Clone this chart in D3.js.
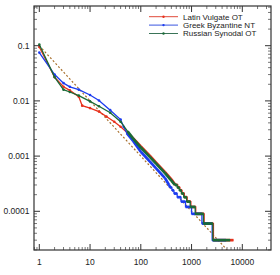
<!DOCTYPE html>
<meta charset="utf-8">
<style>
body { margin: 0; background: #fff; font-family: 'Liberation Sans', Arial, sans-serif; }
text { fill: #222; font-size: 8.5px; }
.legend-text { font-size: 8px; }
.frame { fill: none; stroke: #333; stroke-width: 1.2px; }
.major { stroke: #333; stroke-width: 1px; }
.minor { stroke: #777; stroke-width: 1px; }
.zipf { fill: none; stroke: #a8702e; stroke-width: 1.2px; stroke-dasharray: 2,2; }
.head { fill: none; stroke-width: 1.3px; }
.tail { stroke-width: 2.7px; stroke-linecap: butt; }
</style>
<body>
<svg width="280" height="275"></svg>
<script src="https://d3js.org/d3.v7.min.js"></script>
<script>
// rank / relative frequency
var latinRanks = [1, 2, 3, 4, 6, 7, 10, 15, 21, 30, 40, 53, 70, 100, 150, 200, 300, 400,
  480, 535, 536, 590, 591, 650, 651, 720, 721, 820, 821, 970, 971, 1210, 1211, 1770, 1771, 2700, 2701, 6700];
var latinFreqs = [0.095, 0.027, 0.018, 0.0155, 0.0119, 0.0082, 0.0074, 0.0064, 0.0052, 0.0042, 0.0034, 0.0027, 0.0021, 0.0015, 0.00102, 0.00076, 0.00051, 0.00038,
  3.0e-4, 3.0e-4, 2.7e-4, 2.7e-4, 2.4e-4, 2.4e-4, 2.1e-4, 2.1e-4, 1.8e-4, 1.8e-4, 1.5e-4, 1.5e-4, 1.2e-4, 1.2e-4, 9e-5, 9e-5, 6e-5, 6e-5, 3e-5, 3e-5];

var greekRanks = [1, 2, 3, 4, 6, 10, 15, 25, 40, 46, 53, 70, 100, 150, 200, 300, 360,
  380, 410, 411, 450, 451, 520, 521, 620, 621, 760, 761, 1000, 1001, 1600, 1601, 2550, 2551, 4800];
var greekFreqs = [0.075, 0.030, 0.021, 0.018, 0.016, 0.0128, 0.0102, 0.0068, 0.0046, 0.0034, 0.0026, 0.0019, 0.0012, 0.0008, 0.0006, 0.0004, 0.0003,
  2.7e-4, 2.7e-4, 2.4e-4, 2.4e-4, 2.1e-4, 2.1e-4, 1.8e-4, 1.8e-4, 1.5e-4, 1.5e-4, 1.2e-4, 1.2e-4, 9e-5, 9e-5, 6e-5, 6e-5, 3e-5, 3e-5];

var russianRanks = [1, 2, 3, 4, 6, 10, 15, 25, 40, 55, 70, 100, 150, 200, 300, 400,
  470, 520, 521, 570, 571, 630, 631, 700, 701, 800, 801, 940, 941, 1180, 1181, 1720, 1721, 2630, 2631, 5760];
var russianFreqs = [0.105, 0.027, 0.016, 0.0145, 0.0125, 0.0098, 0.008, 0.0061, 0.0042, 0.0028, 0.0021, 0.00143, 0.00097, 0.00073, 0.00049, 0.00036,
  3.0e-4, 3.0e-4, 2.7e-4, 2.7e-4, 2.4e-4, 2.4e-4, 2.1e-4, 2.1e-4, 1.8e-4, 1.8e-4, 1.5e-4, 1.5e-4, 1.2e-4, 1.2e-4, 9e-5, 9e-5, 6e-5, 6e-5, 3e-5, 3e-5];

// Zipf reference 0.1/r
var zipfRanks = [1, 5000];
var zipfFreqs = [0.1, 2e-5];

var seriesNames = ["Latin Vulgate OT", "Greek Byzantine NT", "Russian Synodal OT"];
var seriesColors = ["#e8301c", "#1c3cf0", "#1a6a36"];
var legendColors = ["#e04a3a", "#3a56e0", "#3a7458"];

var xTicks = [1, 10, 100, 1000, 10000];
var yTicks = [0.1, 0.01, 0.001, 0.0001];
var yLabels = ["0.1", "0.01", "0.001", "0.0001"];

var svg = d3.select("svg");
var frame = {left: 34, right: 271, top: 6, bottom: 250};

var x = d3.scaleLog().domain([1, 10000]).range([39.3, 242.3]);
var y = d3.scaleLog().domain([0.1, 0.0001]).range([45.7, 211.3]);

svg.append("clipPath").attr("id", "clip")
  .append("rect")
    .attr("x", frame.left).attr("y", frame.top)
    .attr("width", frame.right - frame.left).attr("height", frame.bottom - frame.top);

function zipData(r, f) { return r.map(function(d, i) { return {r: d, f: f[i]}; }); }
var series = [
  zipData(latinRanks, latinFreqs),
  zipData(greekRanks, greekFreqs),
  zipData(russianRanks, russianFreqs)
];

var line = d3.line().x(function(d) { return x(d.r); }).y(function(d) { return y(d.f); });

var plot = svg.append("g").attr("clip-path", "url(#clip)");

plot.append("path")
  .datum(zipData(zipfRanks, zipfFreqs))
  .attr("class", "zipf")
  .attr("d", line);

series.forEach(function(data, i) {
  var g = plot.append("g");
  g.append("path").datum(data)
    .attr("class", "head")
    .attr("stroke", seriesColors[i])
    .attr("d", line);
  // dense markers in the tail make the line look thick
  var segs = d3.pairs(data).filter(function(p) { return p[0].r >= 50 && p[1].r - p[0].r > 1; });
  g.selectAll(".tail").data(segs).enter().append("line")
    .attr("class", "tail")
    .attr("stroke", seriesColors[i])
    .attr("x1", function(p) { return x(p[0].r); })
    .attr("y1", function(p) { return y(p[0].f); })
    .attr("x2", function(p) { return x(p[1].r); })
    .attr("y2", function(p) { return y(p[1].f); });
  g.selectAll("circle").data(data.filter(function(d) { return d.r < 50; })).enter().append("circle")
    .attr("r", 1.3)
    .attr("fill", seriesColors[i])
    .attr("cx", function(d) { return x(d.r); })
    .attr("cy", function(d) { return y(d.f); });
});

// ticks, mirrored on all four sides
var xMinor = [], yMinor = [];
var xLo = x.invert(frame.left), xHi = x.invert(frame.right);
var yLo = y.invert(frame.bottom), yHi = y.invert(frame.top);
for (var e = -1; e <= 5; e++) {
  for (var m = 2; m <= 9; m++) {
    var v = m * Math.pow(10, e);
    if (v > xLo && v < xHi) xMinor.push(v);
  }
}
for (var e2 = -6; e2 <= 0; e2++) {
  for (var m2 = 2; m2 <= 9; m2++) {
    var w = m2 * Math.pow(10, e2);
    if (w > yLo && w < yHi) yMinor.push(w);
  }
}

var ticks = svg.append("g");
function vTicks(vals, len, cls) {
  vals.forEach(function(v) {
    var px = x(v);
    ticks.append("line").attr("class", cls).attr("x1", px).attr("x2", px).attr("y1", frame.bottom).attr("y2", frame.bottom - len);
    ticks.append("line").attr("class", cls).attr("x1", px).attr("x2", px).attr("y1", frame.top).attr("y2", frame.top + len);
  });
}
function hTicks(vals, len, cls) {
  vals.forEach(function(v) {
    var py = y(v);
    ticks.append("line").attr("class", cls).attr("y1", py).attr("y2", py).attr("x1", frame.left).attr("x2", frame.left + len);
    ticks.append("line").attr("class", cls).attr("y1", py).attr("y2", py).attr("x1", frame.right).attr("x2", frame.right - len);
  });
}
vTicks(xMinor, 3, "minor");
vTicks(xTicks, 6, "major");
hTicks(yMinor, 3, "minor");
hTicks(yTicks, 6, "major");

svg.append("rect").attr("class", "frame")
  .attr("x", frame.left).attr("y", frame.top)
  .attr("width", frame.right - frame.left).attr("height", frame.bottom - frame.top);

svg.selectAll(".xlab").data(xTicks).enter().append("text")
  .attr("x", function(d) { return x(d); })
  .attr("y", 265)
  .attr("text-anchor", "middle")
  .text(function(d) { return d; });

svg.selectAll(".ylab").data(yTicks).enter().append("text")
  .attr("x", 29.5)
  .attr("y", function(d) { return y(d); })
  .attr("dy", "0.35em")
  .attr("text-anchor", "end")
  .text(function(d, i) { return yLabels[i]; });

// legend
var legend = svg.append("g");
seriesNames.forEach(function(name, i) {
  var ly = 16.7 + i * 8.4;
  legend.append("line").attr("x1", 149).attr("x2", 178).attr("y1", ly).attr("y2", ly)
    .attr("stroke", legendColors[i]).attr("stroke-width", 1);
  legend.append("circle").attr("cx", 163.5).attr("cy", ly).attr("r", 1.2).attr("fill", seriesColors[i]);
  legend.append("text").attr("class", "legend-text").attr("x", 183).attr("y", ly).attr("dy", "0.35em").text(name);
});
</script>
</body>
